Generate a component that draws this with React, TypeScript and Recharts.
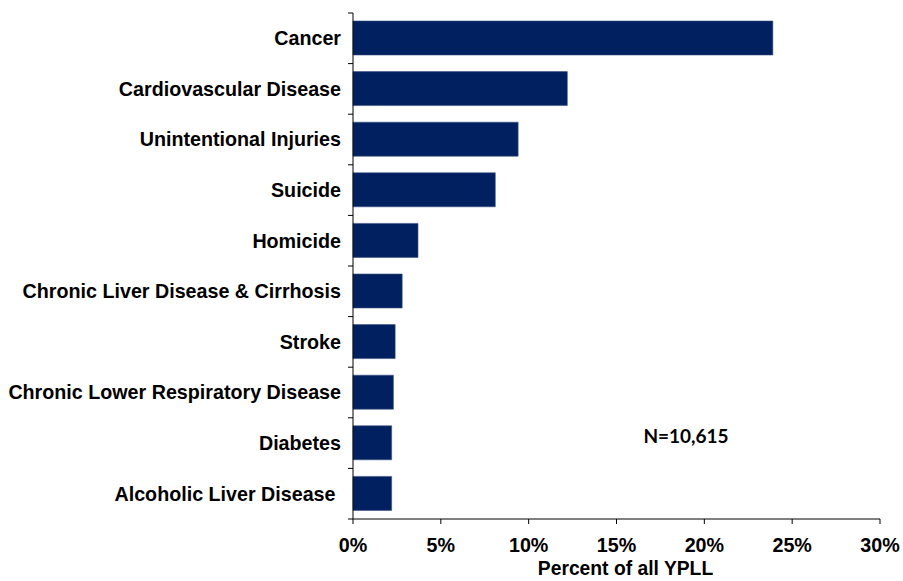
import React from "react";
import { BarChart, Bar, XAxis, YAxis } from "recharts";

const causes = [
  "Cancer",
  "Cardiovascular Disease",
  "Unintentional Injuries",
  "Suicide",
  "Homicide",
  "Chronic Liver Disease & Cirrhosis",
  "Stroke",
  "Chronic Lower Respiratory Disease",
  "Diabetes",
  "Alcoholic Liver Disease\u00a0",
];
const percentYpll = [23.9, 12.2, 9.4, 8.1, 3.7, 2.8, 2.4, 2.3, 2.2, 2.2];
const xTicks = [0, 5, 10, 15, 20, 25, 30];
const noteText = "N=10,615";
const axisTitle = "Percent of all YPLL";

const data = causes.map((cause, i) => ({ cause, value: percentYpll[i] }));

const FONT = "'Liberation Sans', Arial, sans-serif";
const BAND = 50.6; // height of one category row

// category label plus a tick mark on the boundary between rows
const CauseTick = (props: any) => {
  const { x, y, payload, index } = props;
  const axisX = x + 12;
  return (
    <g>
      <line x1={axisX - 5} x2={axisX} y1={y - BAND / 2} y2={y - BAND / 2} stroke="#000" />
      {index === causes.length - 1 && (
        <line x1={axisX - 5} x2={axisX} y1={y + BAND / 2} y2={y + BAND / 2} stroke="#000" />
      )}
      <text
        x={x}
        y={y}
        dy="0.355em"
        textAnchor="end"
        fontFamily={FONT}
        fontWeight="bold"
        fontSize={19.7}
        fill="#000"
      >
        {payload.value}
      </text>
    </g>
  );
};

export default function App() {
  return (
    <div style={{ position: "absolute", left: 0, top: 0, width: 903, height: 581, background: "#fff" }}>
      <BarChart
        width={903}
        height={581}
        data={data}
        layout="vertical"
        margin={{ top: 13, right: 23, bottom: 0, left: 0 }}
      >
        <XAxis
          type="number"
          domain={[0, 30]}
          ticks={xTicks}
          tickFormatter={(v: number) => `${v}%`}
          height={62}
          tickSize={5}
          tickMargin={14}
          axisLine={{ stroke: "#000" }}
          tickLine={{ stroke: "#000" }}
          tick={{ fill: "#000", fontFamily: FONT, fontWeight: "bold", fontSize: 19.7 }}
          label={{
            value: axisTitle,
            position: "insideBottom",
            offset: 6,
            dx: 9,
            fill: "#000",
            fontFamily: FONT,
            fontWeight: "bold",
            fontSize: 19.3,
          }}
        />
        <YAxis
          type="category"
          dataKey="cause"
          width={353}
          tickSize={5}
          tickMargin={7}
          tickLine={false}
          axisLine={{ stroke: "#000" }}
          interval={0}
          tick={<CauseTick />}
        />
        <Bar
          dataKey="value"
          fill="#002060"
          stroke="#3a5080"
          strokeWidth={0.6}
          barSize={34}
          isAnimationActive={false}
        />
      </BarChart>
      <svg
        width={903}
        height={581}
        style={{ position: "absolute", left: 0, top: 0, pointerEvents: "none" }}
      >
        <text
          x={686}
          y={443}
          textAnchor="middle"
          fontFamily="Lato, 'Open Sans', sans-serif"
          fontWeight="bold"
          fontSize={19}
          fill="#000"
        >
          {noteText}
        </text>
      </svg>
    </div>
  );
}
